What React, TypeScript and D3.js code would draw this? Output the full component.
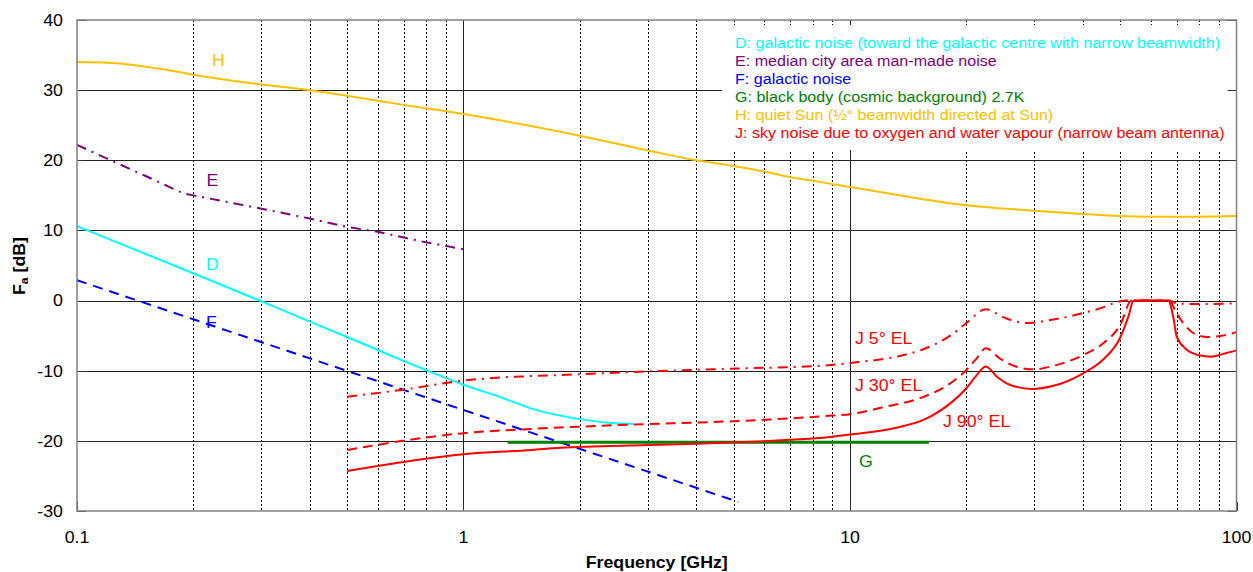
import React from 'react';
import * as d3 from 'd3';

// ---------------- data ----------------
const yTicks = [-30, -20, -10, 0, 10, 20, 30, 40];
const xTicks = [0.1, 1, 10, 100];
const xTickLabels = ['0.1', '1', '10', '100'];

// D: galactic noise toward galactic centre
const freqD = [0.1, 0.2, 0.3, 0.377, 0.5, 0.7, 0.8, 1, 1.25, 1.5, 2, 2.4, 2.75];
const valD = [10.6, 3.9, -0.1, -2.4, -5.2, -8.6, -9.9, -12.0, -13.8, -15.4, -16.9, -17.45, -17.6];

// E: median city man-made noise
const freqE = [0.1, 0.12, 0.15, 0.188, 0.2, 0.3, 0.4, 0.5, 0.6, 0.7, 0.8, 0.9, 1];
const valE = [22.2, 20.2, 17.8, 15.3, 15.0, 13.1, 11.7, 10.5, 9.8, 9.0, 8.3, 7.8, 7.3];

// F: galactic noise
const freqF = [0.1, 1, 5.14];
const valF = [2.9, -15.6, -28.7];

// G: black body 2.7K
const freqG = [1.3, 16];
const valG = [-20.2, -20.2];

// H: quiet sun
const freqHs = [0.1, 0.12, 0.14, 0.17, 0.2, 0.3, 0.4, 0.5, 0.7, 1, 2, 3, 4, 5, 6, 7, 8, 9, 10, 20, 30, 40, 50, 60, 70, 80, 100];
const valHs = [34.0, 33.9, 33.6, 32.9, 32.2, 30.8, 30.0, 29.2, 27.9, 26.6, 23.5, 21.4, 20.0, 19.2, 18.4, 17.6, 17.1, 16.6, 16.2, 13.6, 12.8, 12.35, 12.05, 11.96, 11.95, 11.96, 12.05];

// J: sky noise, 90 deg elevation
const freqJ90 = [0.5, 1, 1.5, 1.78, 3, 4, 5, 6, 7, 8, 9, 10, 13, 15.8, 18.5, 20, 21.3, 22.45, 24, 25.9, 29.5, 33.6, 40, 45.2, 50, 52.5, 54.2, 66.6, 68.8, 70, 74, 80, 85.7, 92.4, 100];
const valJ90 = [-24.3, -21.9, -21.3, -21.0, -20.6, -20.4, -20.2, -20.05, -19.85, -19.65, -19.4, -19.1, -18.2, -16.8, -14.3, -12.5, -10.6, -9.4, -10.85, -12.0, -12.6, -12.15, -10.4, -8.4, -5.3, -2.3, 0, 0, -2.7, -5.1, -6.9, -7.8, -8.0, -7.6, -7.1];

// J: 30 deg elevation
const freqJ30 = [0.5, 1, 1.5, 1.78, 3, 4, 5, 6, 7, 8, 9, 10, 12.4, 15.2, 18.5, 20, 21.3, 22.45, 24.5, 26.5, 29.9, 33.6, 40, 45.2, 50, 53.5, 67, 70, 74, 79, 84, 91.7, 100];
const valJ30 = [-21.3, -18.9, -18.3, -18.1, -17.6, -17.4, -17.2, -17.0, -16.8, -16.6, -16.4, -16.2, -15.1, -13.9, -11.5, -9.9, -8.2, -6.8, -8.3, -9.3, -9.8, -9.3, -7.8, -6.1, -3.5, 0, 0, -1.8, -3.7, -4.9, -5.2, -5.0, -4.5];

// J: 5 deg elevation
const freqJ5 = [0.5, 0.7, 1, 2, 3, 5, 8.37, 10, 13.7, 15.2, 18.5, 20, 22.45, 25, 28.5, 33.6, 40, 45, 50, 52, 67, 70, 80, 100];
const valJ5 = [-13.7, -12.7, -11.4, -10.5, -10.1, -9.7, -9.3, -8.9, -7.8, -7.1, -4.7, -3.2, -1.25, -2.4, -3.2, -2.7, -1.8, -1.0, -0.1, 0, 0, -0.4, -0.5, -0.4];

const legendLabels = [
  'D: galactic noise (toward the galactic centre with narrow beamwidth)',
  'E: median city area man-made noise',
  'F: galactic noise',
  'G: black body (cosmic background) 2.7K',
  'H: quiet Sun (\u00BD\u00B0 beamwidth directed at Sun)',
  'J: sky noise due to oxygen and water vapour (narrow beam antenna)',
];
const legendColors = ['#00FFFF', '#800080', '#0000FF', '#008000', '#FFC000', '#FF0000'];

const FONT = '"Liberation Sans", Arial, Helvetica, sans-serif';
const SX = 1.11;

function T(props: { x: number; y: number; anchor?: string; size: number; color?: string; weight?: string; rotate?: number; children: any }) {
  const { x, y, anchor = 'start', size, color = '#000', weight = 'normal', rotate = 0, children } = props;
  return (
    <text
      transform={`translate(${x},${y}) rotate(${rotate}) scale(${SX},1)`}
      textAnchor={anchor}
      fontSize={size}
      fontWeight={weight}
      fill={color}
    >
      {children}
    </text>
  );
}

export default function App() {
  const left = 77, right = 1236.5, top = 20, bottom = 511;
  const x = d3.scaleLog().domain([0.1, 100]).range([left, right]);
  const y = d3.scaleLinear().domain([-30, 40]).range([bottom, top]);

  const path = (fs: number[], vs: number[], curve: any = d3.curveMonotoneX) =>
    d3.line<number>()
      .x((_, i) => x(fs[i]))
      .y((_, i) => y(vs[i]))
      .curve(curve)(fs) || '';

  const minor: number[] = [];
  [0.1, 1, 10].forEach((d) => {
    for (let m = 2; m <= 9; m++) minor.push(d * m);
  });
  const r = (v: number) => Math.round(v) + 0.5;

  return (
    <svg width={1253} height={572} style={{ position: 'absolute', left: 0, top: 0, background: '#fff' }}
      fontFamily={FONT}>
      <rect x={0} y={0} width={1253} height={572} fill="#fff" />
      {/* grid */}
      {minor.map((f, i) => (
        <line key={'mg' + i} x1={r(x(f))} x2={r(x(f))} y1={top} y2={bottom} stroke="#000" strokeWidth={1} strokeDasharray="2,2" />
      ))}
      {[1, 10].map((f) => (
        <line key={'Mg' + f} x1={r(x(f))} x2={r(x(f))} y1={top} y2={bottom} stroke="#222" strokeWidth={1} />
      ))}
      {yTicks.filter((v) => v > -30 && v < 40).map((v) => (
        <line key={'hg' + v} x1={left} x2={right} y1={r(y(v))} y2={r(y(v))} stroke="#222" strokeWidth={1} />
      ))}

      {/* legend background */}
      <rect x={722} y={25} width={right - 722} height={125} fill="#fff" />

      {/* ticks */}
      {yTicks.map((v) => (
        <g key={'yt' + v}>
          <line x1={left} x2={left + 9} y1={r(y(v))} y2={r(y(v))} stroke="#333" strokeWidth={1} />
          <line x1={right - 9} x2={right} y1={r(y(v))} y2={r(y(v))} stroke="#333" strokeWidth={1} />
          <T x={63} y={y(v) + 5.8} anchor="end" size={16}>{v}</T>
        </g>
      ))}
      {xTicks.map((f, i) => (
        <g key={'xt' + f}>
          <line x1={r(x(f))} x2={r(x(f))} y1={bottom - 9} y2={bottom} stroke="#333" strokeWidth={1} />
          <T x={x(f)} y={543} anchor="middle" size={16}>{xTickLabels[i]}</T>
        </g>
      ))}

      {/* curves */}
      <path d={path(freqHs, valHs)} fill="none" stroke="#FFC000" strokeWidth={2} />
      <path d={path(freqE, valE, d3.curveLinear)} fill="none" stroke="#800080" strokeWidth={2} strokeDasharray="10,6,2,6" />
      <path d={path(freqD, valD)} fill="none" stroke="#00FFFF" strokeWidth={2} />
      <path d={path(freqF, valF, d3.curveLinear)} fill="none" stroke="#0000FF" strokeWidth={2} strokeDasharray="10,7" />
      <path d={path(freqG, valG, d3.curveLinear)} fill="none" stroke="#008000" strokeWidth={3} />
      <path d={path(freqJ90, valJ90)} fill="none" stroke="#FF0000" strokeWidth={2} />
      <path d={path(freqJ30, valJ30)} fill="none" stroke="#FF0000" strokeWidth={2} strokeDasharray="10,6" />
      <path d={path(freqJ5, valJ5)} fill="none" stroke="#FF0000" strokeWidth={2} strokeDasharray="10,6,2,6" />

      {/* frame */}
      <rect x={left} y={top} width={right - left} height={bottom - top} fill="none" stroke="#808080" strokeWidth={1.5} />

      {/* in-plot labels */}
      <T x={218.5} y={66} anchor="middle" size={16} color="#FFC000">H</T>
      <T x={212.5} y={186} anchor="middle" size={16} color="#800080">E</T>
      <T x={212.5} y={270} anchor="middle" size={16} color="#00FFFF">D</T>
      <T x={211.5} y={328} anchor="middle" size={16} color="#0000FF">F</T>
      <T x={866} y={467} anchor="middle" size={16} color="#008000">G</T>
      <T x={855} y={344} size={16} color="#FF0000">J 5° EL</T>
      <T x={855} y={391} size={16} color="#FF0000">J 30° EL</T>
      <T x={943} y={427} size={16} color="#FF0000">J 90° EL</T>

      {/* legend */}
      {legendLabels.map((t, i) => (
        <T key={'lg' + i} x={735} y={48 + i * 18} size={14.5} color={legendColors[i]}>{t}</T>
      ))}

      {/* axis titles */}
      <T x={(left + right) / 2} y={568} anchor="middle" size={16} weight="bold">Frequency [GHz]</T>
      <T x={25} y={266} rotate={-90} anchor="middle" size={16} weight="bold">
        F<tspan fontSize={11} dy={3}>a</tspan><tspan dy={-3}> [dB]</tspan>
      </T>
    </svg>
  );
}
